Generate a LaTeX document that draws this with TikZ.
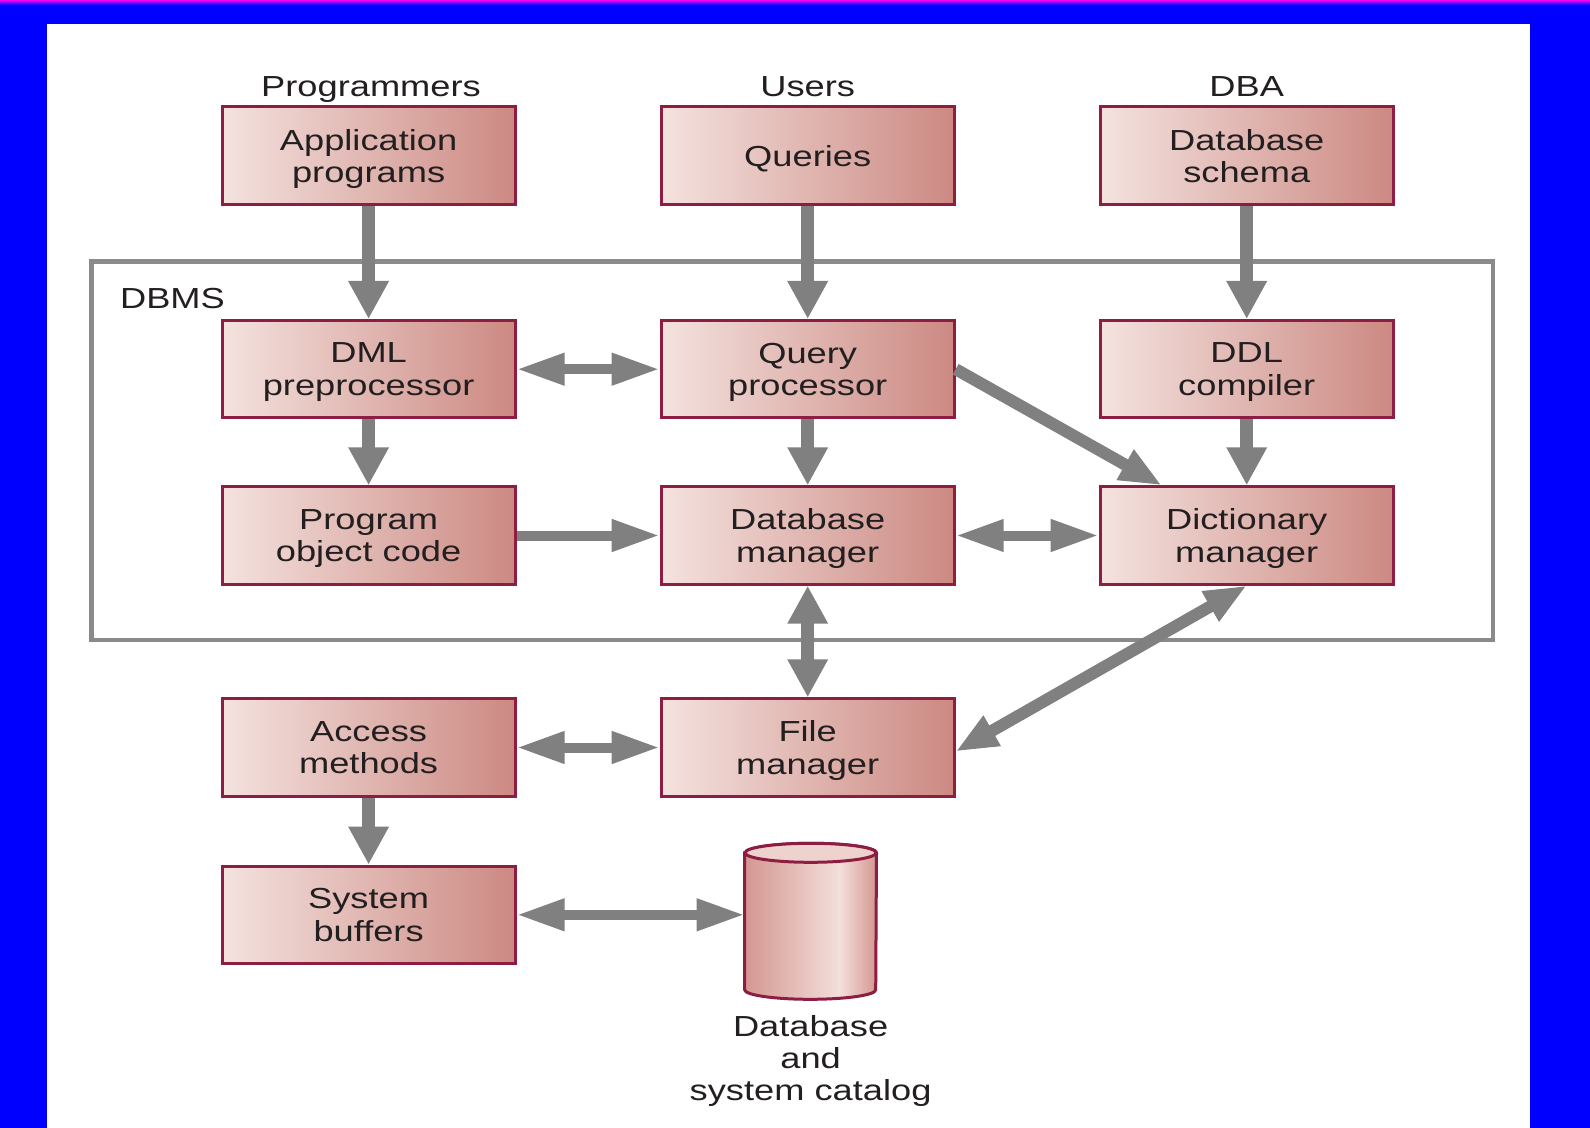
\documentclass[tikz,border=0pt]{standalone}
\usepackage{fontspec}
\setmainfont{Liberation Sans}[FakeStretch=1.25]
\usetikzlibrary{arrows.meta, positioning, calc}
\definecolor{boxLeft}{HTML}{F4E2DF}
\definecolor{boxRight}{HTML}{CC8982}
\definecolor{boxLine}{HTML}{8E1D42}
\definecolor{boxText}{HTML}{231F20}
\definecolor{arrowGray}{HTML}{808080}
\definecolor{frameGray}{HTML}{8A8A8A}
\definecolor{slideBlue}{HTML}{0000FF}
\definecolor{slideTop}{HTML}{F000F0}
\definecolor{cylDark}{HTML}{D39790}
\definecolor{cylLight}{HTML}{F4DFDB}
\definecolor{cylTop}{HTML}{EED2CE}
\pgfdeclarehorizontalshading{cylShade}{100bp}{color(0bp)=(cylDark); color(25bp)=(cylDark); color(61bp)=(cylLight); color(75bp)=(cylDark); color(100bp)=(cylDark)}

\begin{document}
\begin{tikzpicture}[
  x=0.5pt, y=-0.5pt,
  font=\fontsize{14.5}{16.2}\selectfont,
  box/.style  ={draw=boxLine, line width=1.5pt, left color=boxLeft, right color=boxRight, text=boxText, align=center, text depth=-4pt, minimum width=146.5pt, minimum height=48.7pt, inner sep=0pt},
  actor/.style={text=boxText, inner sep=0pt},
  vflow/.style={>={Triangle[length=19pt, width=19pt]}, draw=arrowGray, line width=6.5pt},
  hflow/.style={>={Triangle[length=24pt, width=15pt]}, draw=arrowGray, line width=5pt},
  dflow/.style={>={Triangle[length=21pt, width=16pt]}, draw=arrowGray, line width=6pt},
]
% ----- slide -----
\fill[slideBlue] (0,0) rectangle (1590,1128);
\fill[top color=slideTop, bottom color=slideBlue] (0,0) rectangle (1590,5);
\fill[white] (47,24) rectangle (1530,1128);
\useasboundingbox (0,0) rectangle (1590,1128);
% ----- DBMS frame -----
\draw[frameGray, line width=2.3pt] (91.3,261.7) rectangle (1492.9,640);
\node[actor, anchor=west] (dbmsLabel) at (119.7,299) {DBMS};
% ----- who -----
\node[actor, anchor=base] (progs) at (371,96.5)    {Programmers};
\node[actor, anchor=base] (users) at (807.7,96.5)  {Users};
\node[actor, anchor=base] (dba)   at (1246.7,96.5) {DBA};
% ----- boxes -----
\node[box] (AP)  at (368.6,155.7)  {Application\\programs};
\node[box] (QU)  at (807.7,155.7)  {Queries};
\node[box] (SC)  at (1246.7,155.7) {Database\\schema};
\node[box] (DML) at (368.6,369.2)  {DML\\preprocessor};
\node[box] (QP)  at (807.7,369.2)  {Query\\processor};
\node[box] (DDL) at (1246.7,369.2) {DDL\\compiler};
\node[box] (OC)  at (368.6,535.5)  {Program\\object code};
\node[box] (DBM) at (807.7,535.5)  {Database\\manager};
\node[box] (DM)  at (1246.7,535.5) {Dictionary\\manager};
\node[box] (AM)  at (368.6,747.5)  {Access\\methods};
\node[box] (FM)  at (807.7,747.5)  {File\\manager};
\node[box] (SB)  at (368.6,914.8)  {System\\buffers};
% ----- database -----
\node[inner sep=0pt, minimum width=65.5pt, minimum height=77.6pt] (DB) at (810.6,921.3) {};
\path[draw=boxLine, line width=1.5pt, shading=cylShade]
  ([yshift=-4.75pt]DB.north west) -- ([yshift=4.75pt]DB.south west)
  arc[start angle=180, end angle=360, x radius=32.75pt, y radius=4.75pt]
  -- ([yshift=-4.75pt]DB.north east)
  arc[start angle=0, end angle=180, x radius=32.75pt, y radius=4.75pt] -- cycle;
\draw[boxLine, line width=1.5pt, fill=cylTop] ([yshift=-4.75pt]DB.north) ellipse[x radius=32.75pt, y radius=4.75pt];
\node[actor, align=center] (dbLabel) at (810.6,1061) {Database\\and\\system catalog};
% ----- connectors -----
\draw[vflow, ->] (AP.south) -- (DML.north);
\draw[vflow, ->] (QU.south) -- (QP.north);
\draw[vflow, ->] (SC.south) -- (DDL.north);
\draw[hflow, <->] (DML.east) -- (QP.west);
\draw[vflow, ->] (DML.south) -- (OC.north);
\draw[vflow, ->] (QP.south) -- (DBM.north);
\draw[vflow, ->] (DDL.south) -- (DM.north);
\draw[dflow, ->] (QP.east) -- ($(DM.north west)+(63,0)$);
\draw[hflow, ->] (OC.east) -- (DBM.west);
\draw[hflow, <->] (DBM.east) -- (DM.west);
\draw[vflow, <->] (DBM.south) -- (FM.north);
\draw[dflow, <->] (DM.south) -- ($(FM.east)+(0,4)$);
\draw[hflow, <->] (AM.east) -- (FM.west);
\draw[vflow, ->] (AM.south) -- (SB.north);
\draw[hflow, <->] (SB.east) -- (SB.east -| DB.west);
\end{tikzpicture}
\end{document}
